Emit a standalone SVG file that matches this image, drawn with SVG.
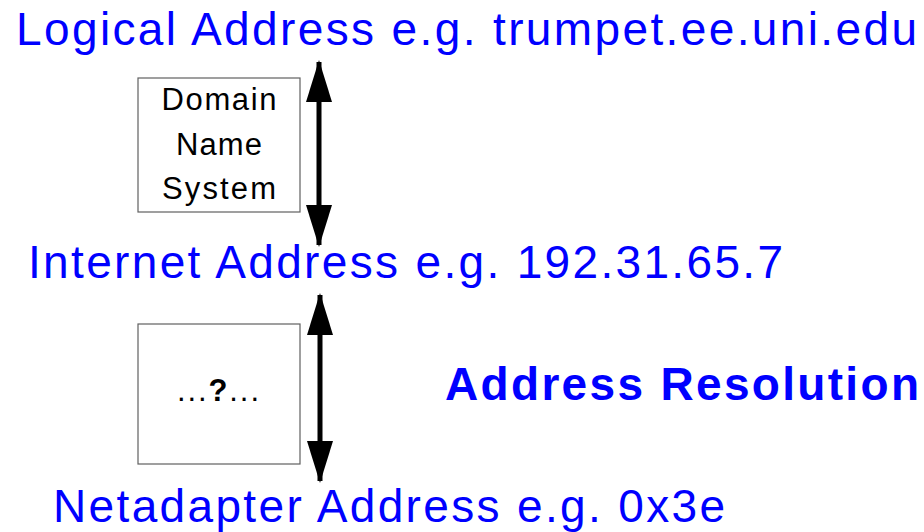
<svg xmlns="http://www.w3.org/2000/svg" width="924" height="532" viewBox="0 0 924 532">
  <style>
    .addr { font-family: "Liberation Sans", Arial, sans-serif; font-size: 46px; fill: #0000ff; }
    .bold { font-weight: bold; }
    .box { fill: #ffffff; stroke: #606060; stroke-width: 1.2; }
    .label { font-family: "Liberation Sans", Arial, sans-serif; font-size: 31px; fill: #000000; text-anchor: middle; }
    .link { stroke: #000000; stroke-width: 5; fill: none; marker-start: url(#head); marker-end: url(#head); }
  </style>
  <defs>
    <marker id="head" viewBox="0 0 42 26" refX="40" refY="13" markerWidth="42" markerHeight="26" markerUnits="userSpaceOnUse" orient="auto-start-reverse">
      <path d="M0,0 L42,13 L0,26 Z" fill="#000000"/>
    </marker>
  </defs>

  <rect width="924" height="532" fill="#ffffff"/>

  <!-- address layers -->
  <g id="logical-address">
    <text class="addr" x="16" y="45" textLength="901" lengthAdjust="spacing">Logical Address e.g. trumpet.ee.uni.edu</text>
  </g>
  <g id="internet-address">
    <text class="addr" x="28" y="278" textLength="755" lengthAdjust="spacing">Internet Address e.g. 192.31.65.7</text>
  </g>
  <g id="netadapter-address">
    <text class="addr" x="53" y="522" textLength="672" lengthAdjust="spacing">Netadapter Address e.g. 0x3e</text>
  </g>
  <g id="address-resolution">
    <text class="addr bold" x="445" y="400" textLength="474" lengthAdjust="spacing">Address Resolution</text>
  </g>

  <!-- mapping boxes -->
  <g id="dns-box">
    <rect class="box" x="138" y="78" width="162" height="134"/>
    <text class="label" x="219" y="110" textLength="115" lengthAdjust="spacing">Domain</text>
    <text class="label" x="219" y="155" textLength="86" lengthAdjust="spacing">Name</text>
    <text class="label" x="219" y="199" textLength="114" lengthAdjust="spacing">System</text>
  </g>
  <g id="unknown-box">
    <rect class="box" x="138" y="324" width="162" height="140"/>
    <text class="label" x="218" y="401" textLength="82" lengthAdjust="spacing">...<tspan class="bold">?</tspan>...</text>
  </g>

  <!-- two-way connectors -->
  <g id="connectors">
    <line class="link" x1="319" y1="62" x2="319" y2="245"/>
    <line class="link" x1="320" y1="295" x2="320" y2="481"/>
  </g>
</svg>
